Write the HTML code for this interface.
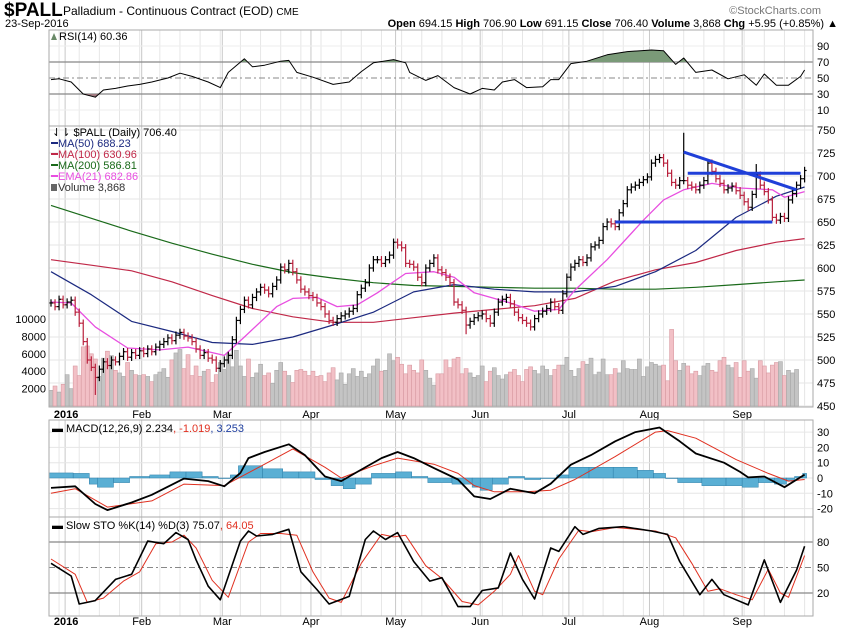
<!DOCTYPE html>
<html><head><meta charset="utf-8"><style>
body{margin:0;background:#fff;font-family:"Liberation Sans",sans-serif;}
svg text{font-family:"Liberation Sans",sans-serif;}
</style></head><body>
<svg id="c" width="850" height="633" viewBox="0 0 850 633" xmlns="http://www.w3.org/2000/svg">
<rect width="850" height="633" fill="#fff"/>
<text x="4" y="16" font-size="19" font-weight="bold">$PALL</text>
<text x="63" y="15" font-size="12">Palladium - Continuous Contract (EOD) <tspan font-size="10">CME</tspan></text>
<text x="5" y="27" font-size="11">23-Sep-2016</text>
<text x="821" y="14" font-size="11" fill="#777" text-anchor="end">©StockCharts.com</text>
<text x="838" y="27" font-size="11" text-anchor="end"><tspan font-weight="bold">Open</tspan> 694.15 <tspan font-weight="bold">High</tspan> 706.90 <tspan font-weight="bold">Low</tspan> 691.15 <tspan font-weight="bold">Close</tspan> 706.40 <tspan font-weight="bold">Volume</tspan> 3,868 <tspan font-weight="bold">Chg</tspan> +5.95 (+0.85%) ▲</text>
<g id="grid"></g>
<g id="marks"></g>
<g id="labels"></g>
</svg>
<script>
// ---------- data ----------
const monthLabels=["2016","Feb","Mar","Apr","May","Jun","Jul","Aug","Sep"];
const monthIdx=[4,23,43,65,86,107,129,149,172];
const closes=[562,558,566,560,563,565,552,540,520,500,492,481,490,498,494,500,498,504,509,503,508,505,510,507,512,509,514,517,520,524,521,527,530,526,524,520,512,505,508,502,500,491,496,500,505,522,543,555,565,560,568,574,579,576,572,580,587,601,598,605,596,587,577,574,570,568,562,558,550,543,541,545,548,550,553,556,571,578,584,600,609,609,605,609,614,628,625,622,605,604,601,590,584,600,605,611,598,595,590,584,563,560,554,538,542,546,548,550,545,540,552,563,566,568,561,552,546,543,540,536,545,550,553,556,563,558,554,572,590,601,605,609,606,611,623,625,630,645,650,648,645,660,670,685,688,690,693,696,699,714,718,720,714,703,693,690,695,695,690,688,685,690,695,714,705,697,692,685,687,689,684,679,672,666,680,701,690,683,674,655,652,656,654,674,681,690,697,706];
const highOverrideIdx=[157,175];
const highOverrideVal=[747,713];
const lowOverrideIdx=[11,103];
const lowOverrideVal=[462,528];
const volumes=[1800,2300,1600,2500,3600,2000,4600,3500,6800,6900,6000,5400,3400,5500,6300,5800,4100,3800,3400,5000,4100,3600,3500,3600,3400,2800,3600,3900,4300,3300,5300,6100,6500,4300,5900,3500,4600,3400,4000,4200,2700,3600,5000,4200,6000,4500,6400,4600,3400,5400,3300,3800,4800,3500,3800,2600,4100,5000,4000,3500,2700,4100,4200,4000,3500,4000,3400,3500,2800,3800,4400,3000,3800,2500,3700,4300,3400,4000,3300,3700,4600,5400,4000,4100,6000,5200,5600,4800,3700,4700,4100,3800,5300,4100,3200,2400,3700,3700,5300,4400,5400,5600,3700,4300,3800,3300,3500,4600,2800,4000,4400,3500,3100,3600,3900,4200,3500,2800,4200,4500,4100,3700,4600,4200,3500,4200,4700,4700,5600,4100,3400,4300,5100,4800,5500,3600,3900,5400,3600,3600,4300,3800,5200,4300,4200,4200,5400,3400,4500,5000,4800,4600,4700,2900,8800,5200,4100,4900,4600,3700,4000,3500,4600,4900,4100,3900,5200,5600,4700,4400,5000,3300,5200,4000,4300,3200,5200,4600,3800,4700,5000,5100,3500,4100,3800,4200];
const ma200Days=[0,10,20,30,40,50,60,70,80,90,100,110,120,130,140,150,160,170,180,187];
const ma200Vals=[668,654,640,627,615,604,595,589,584,581,580,579,578,578,577,577,579,582,585,587];
const ma100Days=[0,10,20,30,40,50,60,70,80,90,100,110,120,130,140,150,160,170,180,187];
const ma100Vals=[609,603,597,585,570,556,547,541,541,546,551,555,559,567,586,598,606,619,628,632];
const ma50Days=[0,10,20,30,40,50,60,70,80,90,100,110,120,130,140,150,160,170,180,187];
const ma50Vals=[596,571,542,531,519,517,525,538,552,574,582,577,574,574,580,596,619,655,678,688];
const ema21Days=[0,5,11,19,27,34,43,48,56,60,66,71,76,81,88,95,100,105,114,120,126,130,138,147,152,157,164,171,179,182,187];
const ema21Vals=[563,562,536,513,511,514,505,525,558,567,568,558,560,573,594,596,590,573,562,553,555,576,609,652,674,685,692,687,685,677,683];
const trendStartIdx=[157,158,140];
const trendStartVal=[726,703,650];
const trendEndIdx=[185,186,179];
const trendEndVal=[685,703,650];
const rsiDays=[0,2,5,8,11,13,16,19,22,25,29,32,35,39,42,44,48,50,53,57,59,61,65,70,74,77,80,85,88,89,93,96,100,104,107,110,112,115,118,122,124,126,129,133,138,143,149,152,155,157,160,164,168,172,175,177,180,183,186,187];
const rsiVals=[48,49,45,30,26,35,37,40,42,45,50,56,52,45,38,57,74,64,66,71,72,57,51,42,45,58,69,73,69,57,47,53,38,30,37,35,45,48,38,39,48,48,68,71,79,83,85,84,67,75,57,60,49,54,41,55,41,41,52,60];
const macdDays=[0,6,11,14,20,25,33,39,43,47,49,53,59,63,68,72,76,82,86,90,95,101,105,109,114,120,124,129,134,140,145,151,156,160,167,171,173,177,182,187];
const macdVals=[-6.5,-5.4,-17,-21,-16,-11,-0.4,-2,-5.4,3.3,13,17,22,15,1,-2,4,13,17,13,6.5,-1,-12,-13.7,-7,-10,-3.7,8.7,15,24,30,33,24,16,10,4,0.4,1,-6,2.2];
const signalDays=[0,6,14,25,33,43,53,60,68,72,80,86,95,101,105,110,118,124,130,140,150,153,160,170,178,183,187];
const signalVals=[-10,-7,-19,-15,-4,-5,9,19,7,0,8,13,9,3,-5,-9,-9,-8,-1,14,30,31,26,12,3,-2,-1];
const histDays=[0,6,10,12,16,20,25,30,34,38,42,45,47,53,58,62,66,70,73,76,80,86,90,94,100,105,107,110,114,118,122,126,129,134,140,146,150,153,156,162,168,172,176,180,183,185,187];
const histVals=[3.3,3,-4,-6,-3,1,2,4,4,1,0,2,8,6,4,4,-1,-5,-7,-4,3,4,1,-3,-4,-6,-8,-4,1,-1,0,2,7,7,7,5,3,0,-3,-5,-5,-6,-3,-4,-2,1,3];
const stoKDays=[0,5,7,11,16,20,24,28,31,34,36,39,42,47,49,51,55,59,62,66,69,74,78,80,83,86,90,94,97,101,104,107,111,114,117,120,124,126,130,132,136,142,149,153,156,161,164,167,170,173,177,181,185,187];
const stoKVals=[55,40,7,11,36,42,81,78,91,83,59,28,12,81,93,87,89,95,45,24,7,16,83,93,83,91,57,34,38,4,4,23,26,67,36,13,73,69,98,89,96,98,93,89,57,18,36,18,12,6,59,9,47,75];
const stoDDays=[0,6,9,13,18,22,26,30,33,36,40,44,49,52,57,61,65,69,72,77,82,85,88,93,97,102,106,110,114,116,120,122,126,131,134,140,150,155,159,163,166,170,174,178,181,183,187];
const stoDVals=[60,42,9,14,34,45,78,80,88,73,35,15,80,90,90,88,45,14,9,55,89,86,88,52,37,10,6,22,42,64,22,18,60,94,92,97,93,85,55,22,25,18,12,48,20,15,64];
// ---------- geometry ----------
const L=49,R=813;
const X=i=>51+i*4.03;
const PY=p=>130+(750-p)*0.92;
const VY=v=>406-v*0.0087;
const RY=v=>78-(v-50)*0.8;
const MY=v=>478-v*1.53;
const SY=v=>610-v*0.85;
const NS="http://www.w3.org/2000/svg";
const grid=document.getElementById('grid'),marks=document.getElementById('marks'),labels=document.getElementById('labels');
function el(tag,attrs,parent){const e=document.createElementNS(NS,tag);for(const k in attrs)e.setAttribute(k,attrs[k]);parent.appendChild(e);return e;}
function txt(x,y,s,size,anchor,fill,parent){const t=el('text',{x:x,y:y,'font-size':size,'text-anchor':anchor||'start',fill:fill||'#000'},parent);t.textContent=s;return t;}
const panels=[[30,126],[126,407],[420,517],[517,616]];
// weekly gridlines
for(let i=2;i<188;i+=5){for(const p of panels){const l=el('line',{x1:X(i),x2:X(i),y1:p[0],y2:p[1],stroke:'#e6e6e6','stroke-width':1},grid);}}
for(let m=0;m<monthIdx.length;m++){const x=X(monthIdx[m])-2;for(const p of panels){const l=el('line',{x1:x,x2:x,y1:p[0],y2:p[1],stroke:'#c8c8c8','stroke-width':1},grid);}
 for(const y of [418,625]){const t=txt(x,y,monthLabels[m],11,'middle','#000',labels);if(m===0){t.setAttribute('font-weight','bold');t.setAttribute('x',x+1);}}}
// horizontal grids and axis labels
function hline(y,stroke,dash,w){const l=el('line',{x1:L,x2:R,y1:y,y2:y,stroke:stroke,'stroke-width':w||1},grid);if(dash)l.setAttribute('stroke-dasharray',dash);return l;}
for(const v of [90,70,50,30,10]){const y=RY(v);let l;if(v===70||v===30)l=hline(y,'#888',null,1.2);else if(v===50)l=hline(y,'#888','6,3,2,3');else l=hline(y,'#eee');const t=txt(817,y+4,String(v),11,'start','#000',labels);}
for(let p=450;p<=750;p+=25){const y=PY(p);const l=hline(y,'#e6e6e6');const t=txt(817,y+4,String(p),11,'start','#000',labels);}
for(const v of [2000,4000,6000,8000,10000]){const t=txt(46,VY(v)+4,String(v),11,'end','#000',labels);}
for(const v of [30,20,10,0,-10,-20]){const l=hline(MY(v),'#e6e6e6');const t=txt(817,MY(v)+4,String(v),11,'start','#000',labels);}
for(const v of [80,50,20]){const l=v===50?hline(SY(v),'#888','6,3,2,3'):hline(SY(v),'#888',null,1.2);const t=txt(817,SY(v)+4,String(v),11,'start','#000',labels);}
for(const p of panels){const r=el('rect',{x:L,y:p[0],width:R-L,height:p[1]-p[0],fill:'none',stroke:'#aaa','stroke-width':1},labels);}
// volume
for(let i=0;i<closes.length;i++){const down=i>0&&closes[i]<closes[i-1];const y=VY(volumes[i]);const r=el('rect',{x:X(i)-2,y:y,width:4,height:406-y,fill:down?'#f2c0c6':'#c4c4c4',stroke:down?'#d89aa2':'#a8a8a8','stroke-width':0.6},marks);}
// MA lines
function poly(days,vals,fy,color,w,name){const pts=days.map((d,k)=>X(d).toFixed(1)+','+fy(vals[k]).toFixed(1)).join(' ');const p=el('polyline',{points:pts,fill:'none',stroke:color,'stroke-width':w,'stroke-linejoin':'round'},marks);return p;}
poly(ma200Days,ma200Vals,PY,'#1a6a1a',1.2,'ma200-line');
poly(ma100Days,ma100Vals,PY,'#c02848',1.2,'ma100-line');
poly(ma50Days,ma50Vals,PY,'#1c2a80',1.2,'ma50-line');
poly(ema21Days,ema21Vals,PY,'#e84ee0',1.3,'ema21-line');
// price bars
for(let i=0;i<closes.length;i++){const c=closes[i],o=i>0?closes[i-1]:c;let h=Math.max(o,c)+4,lo=Math.min(o,c)-4;const hi=highOverrideIdx.indexOf(i);if(hi>=0)h=highOverrideVal[hi];const li=lowOverrideIdx.indexOf(i);if(li>=0)lo=lowOverrideVal[li];const col=(i>0&&c<o)?'#b8203c':'#000';const x=X(i);const g=el('g',{stroke:col,'stroke-width':1.2},marks);el('line',{x1:x,x2:x,y1:PY(h),y2:PY(lo)},g);el('line',{x1:x-2,x2:x,y1:PY(o),y2:PY(o)},g);el('line',{x1:x,x2:x+2,y1:PY(c),y2:PY(c)},g);}
// trendlines
for(let k=0;k<trendStartIdx.length;k++){const l=el('line',{x1:X(trendStartIdx[k]),y1:PY(trendStartVal[k]),x2:X(trendEndIdx[k]),y2:PY(trendEndVal[k]),stroke:'#1f3fd8','stroke-width':3},marks);}
// RSI
const defs=el('defs',{},marks);
const c1=el('clipPath',{id:'above70'},defs);el('rect',{x:L,y:30,width:R-L,height:RY(70)-30},c1);
const c2=el('clipPath',{id:'below30'},defs);el('rect',{x:L,y:RY(30),width:R-L,height:126-RY(30)},c2);
const rp=rsiDays.map((d,k)=>X(d).toFixed(1)+','+RY(rsiVals[k]).toFixed(1));
const f1=el('polygon',{points:X(rsiDays[0])+','+RY(70)+' '+rp.join(' ')+' '+X(rsiDays[rsiDays.length-1])+','+RY(70),fill:'#7a9a78','clip-path':'url(#above70)'},marks);
const f2=el('polygon',{points:X(rsiDays[0])+','+RY(30)+' '+rp.join(' ')+' '+X(rsiDays[rsiDays.length-1])+','+RY(30),fill:'#a07a80','clip-path':'url(#below30)'},marks);
poly(rsiDays,rsiVals,RY,'#000',1,'rsi-line');
// MACD histogram
for(let k=0;k<histDays.length;k++){const x0=X(histDays[k])-2,x1=k<histDays.length-1?X(histDays[k+1])-2:X(histDays[k])+2;const v=histVals[k];const y=Math.min(MY(v),MY(0)),hh=Math.abs(MY(v)-MY(0));const r=el('rect',{x:x0,y:y,width:x1-x0,height:Math.max(hh,0.5),fill:'#5aafd4',stroke:'#2e7fa8','stroke-width':0.5},marks);}
poly(signalDays,signalVals,MY,'#e03020',1,'macd-signal-line');
poly(macdDays,macdVals,MY,'#000',1.8,'macd-line');
// STO
poly(stoDDays,stoDVals,SY,'#e03020',1,'sto-d-line');
poly(stoKDays,stoKVals,SY,'#000',1.6,'sto-k-line');
// legends
function leg(y,color,s,name,x){const l=el('line',{x1:51,x2:58,y1:y-4,y2:y-4,stroke:color,'stroke-width':2},labels);const t=txt(x||58,y,s,11,'start',color,labels);return t;}
let t=txt(59,40,'RSI(14) 60.36',11,'start','#000',labels);
el('polygon',{points:'51,40 54,33 57,40',fill:'#6a8a68'},labels);
t=txt(52,136,'⇃⇂ $PALL (Daily) 706.40',11,'start','#000',labels);
leg(147,'#1c2a80','MA(50) 688.23','ma50-legend');
leg(158,'#c02848','MA(100) 630.96','ma100-legend');
leg(169,'#1a6a1a','MA(200) 586.81','ma200-legend');
leg(180,'#e84ee0','EMA(21) 682.86','ema21-legend');
t=txt(58,191,'Volume 3,868',11,'start','#333',labels);
el('rect',{x:51,y:184,width:6,height:7,fill:'#666'},labels);
t=txt(52,432,'',11,'start','#000',labels);t.innerHTML='<tspan font-weight="bold">▬</tspan> MACD(12,26,9) 2.234<tspan fill="#e03020">, -1.019</tspan><tspan fill="#2040a0">, 3.253</tspan>';
t=txt(52,529,'',11,'start','#000',labels);t.innerHTML='<tspan font-weight="bold">▬</tspan> Slow STO %K(14) %D(3) 75.07<tspan fill="#e03020">, 64.05</tspan>';
</script>
</body></html>
